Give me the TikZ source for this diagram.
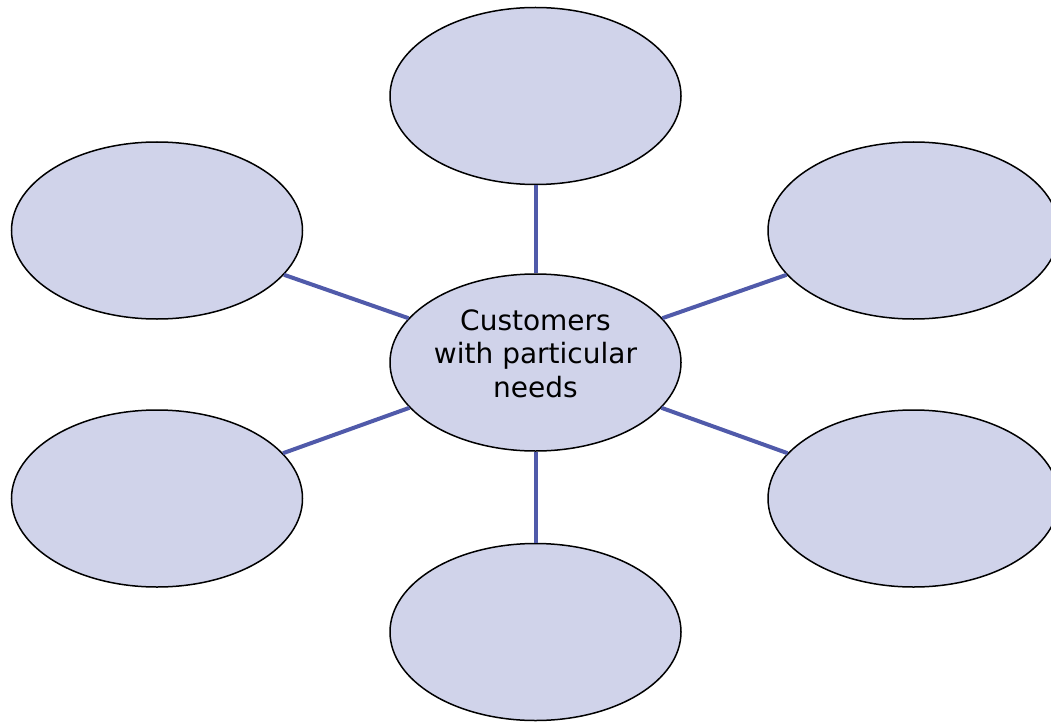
\documentclass[tikz,border=0pt]{standalone}
\usepackage{fontspec}
\setmainfont{DejaVu Sans}
\usetikzlibrary{shapes.geometric,calc}
\definecolor{bubblefill}{RGB}{208,211,234}
\definecolor{spoke}{RGB}{80,90,170}
\begin{document}
\begin{tikzpicture}[x=1pt,y=-1pt,
  bubble/.style={ellipse,draw=black,line width=1.5pt,fill=bubblefill,
    minimum width=291pt,minimum height=177pt,inner sep=0pt},
  spokeline/.style={draw=spoke,line width=4pt}]
  \useasboundingbox (0,0) rectangle (1051,722);
  % outer bubbles
  \node[bubble] (top) at (535.5,96) {};
  \node[bubble] (lt)  at (157,230.5) {};
  \node[bubble] (rt)  at (913.5,230.5) {};
  \node[bubble] (lb)  at (157,498.5) {};
  \node[bubble] (rb)  at (913.5,498.5) {};
  \node[bubble] (bot) at (535.5,632) {};
  % hub with its caption
  \node[bubble] (hub) at (535.5,362.5) {};
  \node[align=center,font=\fontsize{28}{33.5}\selectfont,inner sep=0pt]
    (hubtext) at ($(hub)+(0,-9)$) {Customers\\with particular\\needs};
  % spokes from the hub to each bubble
  \foreach \n in {top,lt,rt,lb,rb,bot}
    \path[spokeline] (hub) -- (\n);
\end{tikzpicture}
\end{document}
